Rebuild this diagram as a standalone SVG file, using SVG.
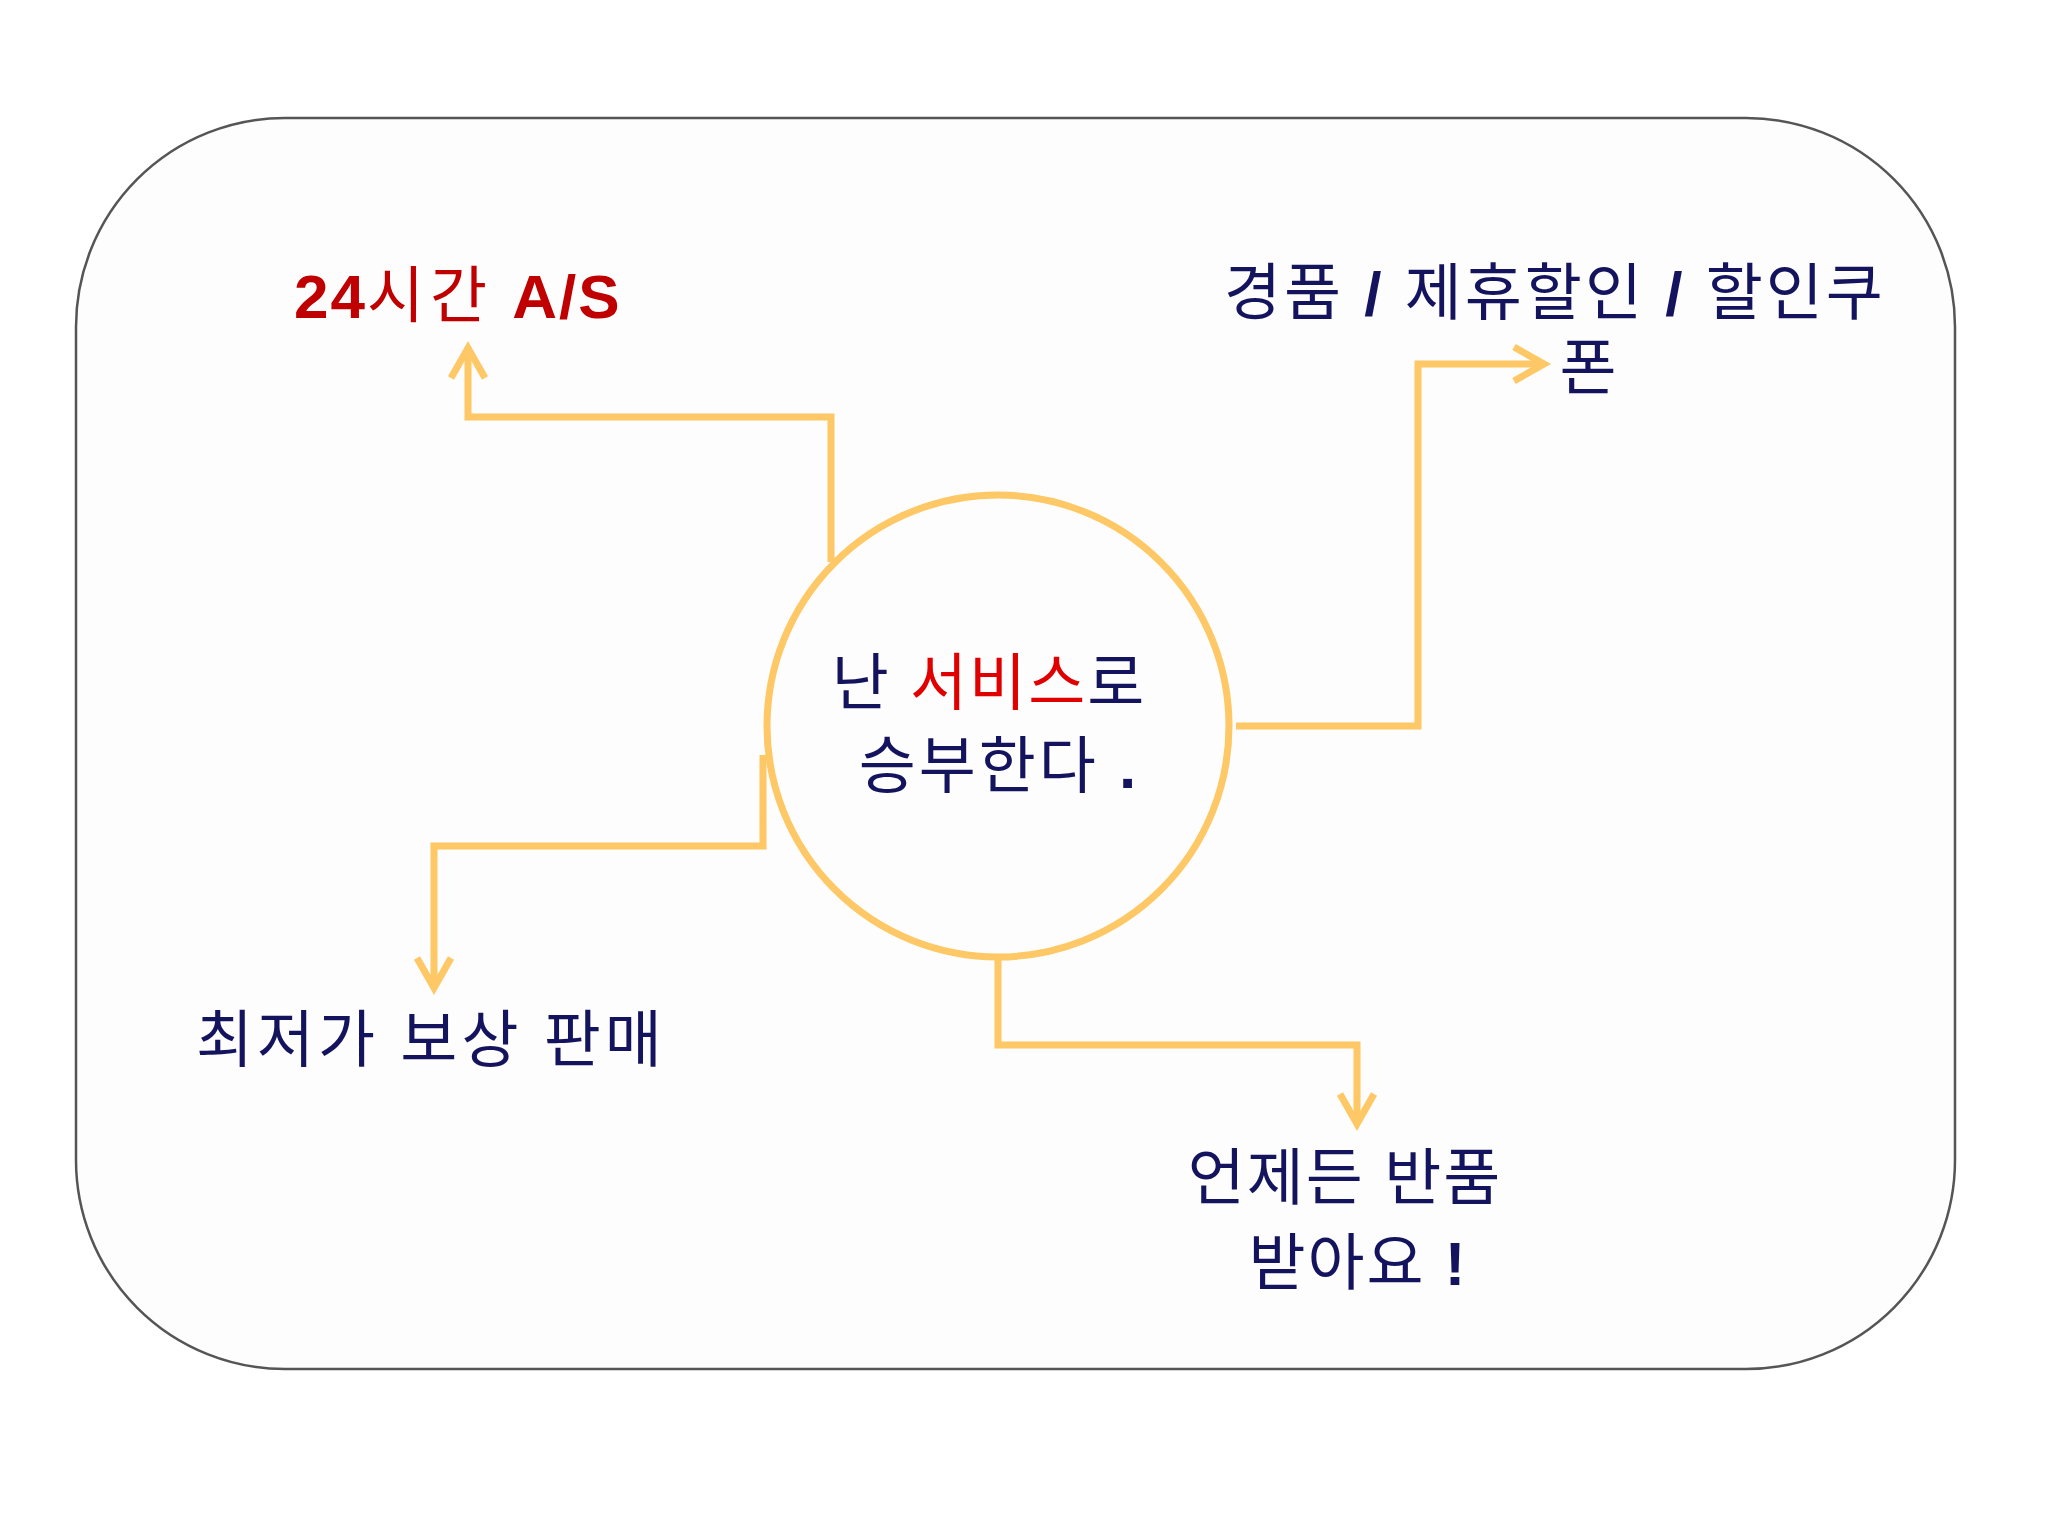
<svg xmlns="http://www.w3.org/2000/svg" width="2048" height="1536" viewBox="0 0 2048 1536">
<style>
.t{font-family:"Liberation Sans","Noto Sans CJK KR",sans-serif;font-size:62px;fill:#14145e}
.r{fill:#c00000;font-weight:bold}
.c{fill:none;stroke:#fdc865;stroke-width:7}
</style>
<rect width="2048" height="1536" fill="#fff"/>
<rect x="76" y="118" width="1879" height="1251" rx="209" fill="#fdfdfd" stroke="#555" stroke-width="2.5"/>
<g id="connectors">
<path class="c" d="M831,562 V417 H468 V350"/>
<polyline class="c" points="451,378 468,348 485,378"/>
<path class="c" d="M1236,726 H1418 V364 H1542"/>
<polyline class="c" points="1514,347 1544,364 1514,381"/>
<path class="c" d="M763,755 V846 H434 V986"/>
<polyline class="c" points="417,958 434,988 451,958"/>
<path class="c" d="M998,957 V1045 H1357 V1122"/>
<polyline class="c" points="1340,1094 1357,1124 1374,1094"/>
</g>
<g id="center">
<circle class="c" cx="998" cy="726" r="231" fill="#fff"/>
<text class="t" x="989" y="705" text-anchor="middle" letter-spacing="2">난 <tspan fill="#e00000">서비스</tspan>로</text>
<text class="t" x="999" y="788" text-anchor="middle" letter-spacing="3">승부한다 <tspan font-weight="bold">.</tspan></text>
</g>
<g id="as"><text class="t r" x="294" y="318" letter-spacing="2">24<tspan font-weight="normal" letter-spacing="6">시간</tspan>  A/S</text></g>
<g id="gift"><text class="t" x="1224" y="315" letter-spacing="3">경품 <tspan font-weight="bold">/</tspan> 제휴할인 <tspan font-weight="bold">/</tspan> 할인쿠</text><text class="t" x="1588" y="390" text-anchor="middle">폰</text></g>
<g id="low"><text class="t" x="196" y="1062" letter-spacing="4">최저가 보상 판매</text></g>
<g id="ret"><text class="t" x="1345" y="1200" text-anchor="middle" letter-spacing="2">언제든 반품</text><text class="t" x="1358" y="1285" text-anchor="middle" letter-spacing="2">받아요 <tspan font-weight="bold">!</tspan></text></g>
</svg>
